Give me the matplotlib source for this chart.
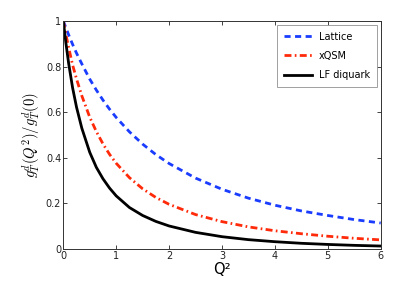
import matplotlib
matplotlib.use("Agg")
import matplotlib.pyplot as plt

q2 = [0, 0.05, 0.1, 0.175, 0.25, 0.35, 0.5, 0.625, 0.75, 0.875, 1.0, 1.25, 1.5, 1.75, 2.0, 2.5, 3.0, 3.5, 4.0, 4.5, 5.0, 5.5, 6.0]
lattice = [1.0, 0.970, 0.940, 0.898, 0.859, 0.812, 0.745, 0.697, 0.653, 0.613, 0.577, 0.514, 0.460, 0.414, 0.375, 0.311, 0.262, 0.223, 0.192, 0.167, 0.147, 0.129, 0.114]
xqsm = [1.0, 0.940, 0.885, 0.808, 0.746, 0.672, 0.578, 0.515, 0.461, 0.415, 0.376, 0.313, 0.264, 0.226, 0.196, 0.151, 0.120, 0.097, 0.080, 0.067, 0.056, 0.047, 0.040]
lfdiquark = [1.0, 0.902, 0.816, 0.708, 0.622, 0.530, 0.424, 0.358, 0.308, 0.267, 0.233, 0.182, 0.147, 0.121, 0.101, 0.073, 0.054, 0.041, 0.032, 0.025, 0.020, 0.016, 0.013]

labels = ["Lattice", "xQSM", "LF diquark"]
xticks = [0, 1, 2, 3, 4, 5, 6]
yticks = [0, 0.2, 0.4, 0.6, 0.8, 1.0]
yticklabels = ["0", "0.2", "0.4", "0.6", "0.8", "1"]

plt.rcParams['font.family'] = ['DejaVu Sans']
plt.rcParams['mathtext.fontset'] = 'cm'
fig = plt.figure(figsize=(4.09, 2.81), dpi=100)
ax = fig.add_axes([63.3/409, 1-249/281, (380.7-63.3)/409, 228/281])

ax.plot(q2, lattice, color="#1a3cff", lw=2.0, ls=(0, (2.2, 1.6)), label=labels[0])
ax.plot(q2, xqsm, color="#ff2a0a", lw=2.0, ls=(0, (2.5, 1.2, 0.6, 1.2)), label=labels[1])
ax.plot(q2, lfdiquark, color="black", lw=2.0, ls="-", label=labels[2])

ax.set_xlim(0, 6)
ax.set_ylim(0, 1)
ax.set_xticks(xticks)
ax.set_xticklabels([str(t) for t in xticks])
ax.set_yticks(yticks)
ax.set_yticklabels(yticklabels)
ax.tick_params(direction="in", top=True, right=True, labelsize=7, length=3, width=0.6, pad=1.5, colors="#222222")
for s in ax.spines.values():
    s.set_linewidth(0.7)
    s.set_color("#333333")

ax.set_xlabel("Q²", fontsize=10.5, labelpad=1)
ax.set_ylabel(r"$g_T^d(Q^2)/g_T^d(0)$", fontsize=10.5, labelpad=2)

leg = ax.legend(loc="upper right", bbox_to_anchor=((376.7-63.3)/317.4, (249-24.7)/228),
                borderaxespad=0, fontsize=7, frameon=True, fancybox=False,
                handlelength=2.9, labelspacing=0.95, handletextpad=0.7, borderpad=0.7)
leg.get_frame().set_edgecolor("#888888")
leg.get_frame().set_linewidth(0.7)

fig.savefig("out.png", dpi=100)
